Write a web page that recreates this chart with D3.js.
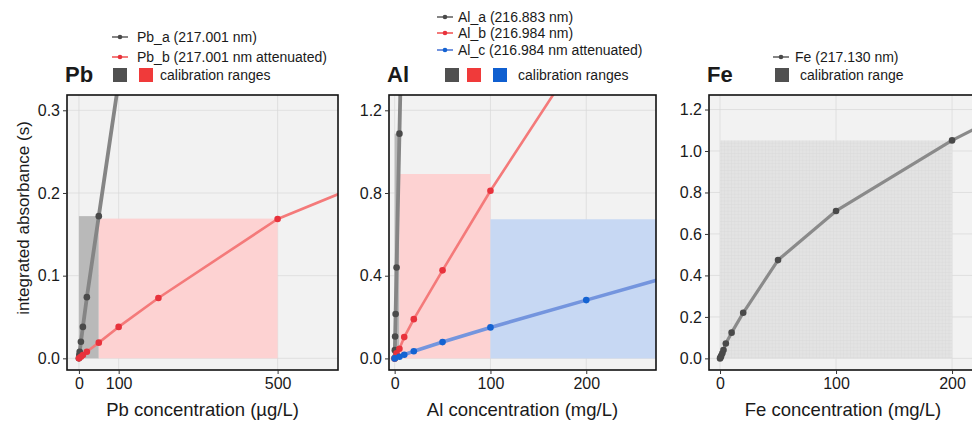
<!DOCTYPE html>
<html>
<head>
<meta charset="utf-8">
<script src="https://cdn.jsdelivr.net/npm/d3@7"></script>
<style>
  body { margin: 0; background: #fff; }
  text { font-family: Arial, "Liberation Sans", sans-serif; fill: #1a1a1a; }
</style>
</head>
<body>
<svg id="chart" width="972" height="427"></svg>
<script>
// ---- data ----
// Pb (µg/L)
const pbA_x = [0, 1, 2, 5, 10, 20, 50, 100];
const pbA_y = [0, 0.004, 0.008, 0.02, 0.038, 0.074, 0.172, 0.335];
const pbB_x = [0, 5, 10, 20, 50, 100, 200, 500, 1000];
const pbB_y = [0, 0.002, 0.004, 0.008, 0.019, 0.038, 0.073, 0.1685, 0.267];
const pbRanges = [[0, 50, 0.172], [50, 500, 0.169]];
// Al (mg/L)
const alA_x = [0, 0.2, 0.5, 1, 2, 5, 10];
const alA_y = [0, 0.04, 0.106, 0.215, 0.44, 1.087, 2.17];
const alB_x = [0, 2, 5, 10, 20, 50, 100, 200];
const alB_y = [0, 0.025, 0.047, 0.103, 0.19, 0.426, 0.811, 1.52];
const alC_x = [0, 5, 10, 20, 50, 100, 200, 500];
const alC_y = [0, 0.008, 0.018, 0.035, 0.079, 0.15, 0.282, 0.673];
const alRanges = [[0, 5, 1.087], [5, 100, 0.892], [100, 500, 0.673]];
// Fe (mg/L)
const fe_x = [0, 0.5, 1, 2, 3, 5, 10, 20, 50, 100, 200, 300];
const fe_y = [0, 0.005, 0.012, 0.025, 0.04, 0.072, 0.124, 0.22, 0.474, 0.711, 1.051, 1.335];
const feRanges = [[0, 200, 1.051]];

const zip = (xs, ys) => xs.map((x, i) => ({x: x, y: ys[i]}))

const grey = {line: "#858585", dot: "#4a4a4a", lw: 3.8, key: "#505050", rect: "#b9b9b9"}
const red = {line: "#f47a7a", dot: "#e8323c", lw: 2.6, key: "#f03a3a", rect: "#fdd2d2"}
const blue = {line: "#7495de", dot: "#1463d2", lw: 3.6, key: "#0f5fd0", rect: "#c7d8f3"}

const svg = d3.select("#chart")

// fine grid texture used on the Fe range
const defs = svg.append("defs")
const pat = defs.append("pattern").attr("id", "fegrid")
  .attr("width", 3.4).attr("height", 3.4).attr("patternUnits", "userSpaceOnUse")
pat.append("rect").attr("width", 3.4).attr("height", 3.4).attr("fill", "#e3e3e3")
pat.append("path").attr("d", "M0,0.3H3.4M0.3,0V3.4").attr("stroke", "#d8d8d8").attr("stroke-width", 0.5)

const plotTop = 95, plotBottom = 370

const panels = [
  {id: "pb", left: 67, right: 338, xDomain: [-30, 652], yDomain: [-0.0141, 0.3185],
   xTicks: [0, 100, 500], yTicks: [0, 0.1, 0.2, 0.3], title: "Pb", xlabel: "Pb concentration (µg/L)",
   ranges: pbRanges.map((r, i) => ({r: r, c: [grey, red][i]})),
   series: [{d: zip(pbA_x, pbA_y), c: grey}, {d: zip(pbB_x, pbB_y), c: red}],
   legend: {lx: 112, tx: 137, rows: [["Pb_a (217.001 nm)", grey, 37], ["Pb_b (217.001 nm attenuated)", red, 57]],
            keyY: 75, keys: [[113, grey], [139, red]], keyText: [160, "calibration ranges"]}},
  {id: "al", left: 389, right: 656, xDomain: [-5.9, 272.8], yDomain: [-0.056, 1.274],
   xTicks: [0, 100, 200], yTicks: [0, 0.4, 0.8, 1.2], title: "Al", xlabel: "Al concentration (mg/L)",
   ranges: alRanges.map((r, i) => ({r: r, c: [grey, red, blue][i]})),
   series: [{d: zip(alA_x, alA_y), c: grey}, {d: zip(alB_x, alB_y), c: red}, {d: zip(alC_x, alC_y), c: blue}],
   legend: {lx: 437, tx: 458, rows: [["Al_a (216.883 nm)", grey, 17], ["Al_b (216.984 nm)", red, 33], ["Al_c (216.984 nm attenuated)", blue, 50]],
            keyY: 75, keys: [[445, grey], [467, red], [493, blue]], keyText: [518, "calibration ranges"]}},
  {id: "fe", left: 709, right: 977, xDomain: [-9.5, 221.5], yDomain: [-0.056, 1.27],
   xTicks: [0, 100, 200], yTicks: [0, 0.2, 0.4, 0.6, 0.8, 1.0, 1.2], title: "Fe", xlabel: "Fe concentration (mg/L)",
   ranges: feRanges.map(r => ({r: r, c: {rect: "url(#fegrid)"}})),
   series: [{d: zip(fe_x, fe_y), c: {line: "#8a8a8a", dot: "#4a4a4a", lw: 3.2}}],
   legend: {lx: 773, tx: 795, rows: [["Fe (217.130 nm)", grey, 57]],
            keyY: 75, keys: [[775, grey]], keyText: [800, "calibration range"]}}
]

panels.forEach(p => {
  const x = d3.scaleLinear().domain(p.xDomain).range([p.left, p.right])
  const y = d3.scaleLinear().domain(p.yDomain).range([plotBottom, plotTop])
  const g = svg.append("g")
  const w = p.right - p.left, h = plotBottom - plotTop

  defs.append("clipPath").attr("id", "clip-" + p.id)
    .append("rect").attr("x", p.left).attr("y", plotTop).attr("width", w).attr("height", h)

  g.append("rect").attr("x", p.left).attr("y", plotTop).attr("width", w).attr("height", h)
    .attr("fill", "#f2f2f2")

  // grid
  g.append("g").selectAll("line").data(p.xTicks).join("line")
    .attr("x1", d => x(d)).attr("x2", d => x(d)).attr("y1", plotTop).attr("y2", plotBottom)
    .attr("stroke", "#d9d9d9").attr("stroke-width", 0.7)
  g.append("g").selectAll("line").data(p.yTicks).join("line")
    .attr("x1", p.left).attr("x2", p.right).attr("y1", d => y(d)).attr("y2", d => y(d))
    .attr("stroke", "#d9d9d9").attr("stroke-width", 0.7)

  const plot = g.append("g").attr("clip-path", "url(#clip-" + p.id + ")")

  // calibration ranges
  plot.selectAll("rect.range").data(p.ranges).join("rect").attr("class", "range")
    .attr("x", d => x(d.r[0])).attr("width", d => x(d.r[1]) - x(d.r[0]))
    .attr("y", d => y(d.r[2])).attr("height", d => y(0) - y(d.r[2]))
    .attr("fill", d => d.c.rect)

  const line = d3.line().x(d => x(d.x)).y(d => y(d.y))
  p.series.forEach(s => {
    plot.append("path").datum(s.d).attr("d", line)
      .attr("fill", "none").attr("stroke", s.c.line).attr("stroke-width", s.c.lw)
      .attr("stroke-linejoin", "round")
    plot.append("g").selectAll("circle").data(s.d).join("circle")
      .attr("cx", d => x(d.x)).attr("cy", d => y(d.y)).attr("r", 3.3)
      .attr("fill", s.c.dot)
  })

  g.append("rect").attr("x", p.left).attr("y", plotTop).attr("width", w).attr("height", h)
    .attr("fill", "none").attr("stroke", "#111").attr("stroke-width", 1.6)

  // axes
  const xa = g.append("g").attr("transform", `translate(0,${plotBottom})`)
    .call(d3.axisBottom(x).tickValues(p.xTicks).tickSize(4).tickPadding(4))
  const ya = g.append("g").attr("transform", `translate(${p.left},0)`)
    .call(d3.axisLeft(y).tickValues(p.yTicks).tickFormat(d3.format(".1f")).tickSize(4).tickPadding(3))
  ;[xa, ya].forEach(a => {
    a.select(".domain").remove()
    a.selectAll(".tick line").attr("stroke", "#333").attr("stroke-width", 1)
    a.selectAll(".tick text").attr("font-size", 16).attr("fill", "#222")
      .style("font-family", "Arial, 'Liberation Sans', sans-serif")
  })

  g.append("text").attr("x", (p.left + p.right) / 2).attr("y", 416)
    .attr("text-anchor", "middle").attr("font-size", 18.5).text(p.xlabel)

  // title and legend
  g.append("text").attr("x", p.left - 2).attr("y", 82).attr("font-size", 22)
    .attr("font-weight", "bold").text(p.title)
  const L = p.legend
  L.rows.forEach(r => {
    g.append("line").attr("x1", L.lx).attr("x2", L.lx + 16).attr("y1", r[2]).attr("y2", r[2])
      .attr("stroke", r[1].line).attr("stroke-width", 2)
    g.append("circle").attr("cx", L.lx + 8).attr("cy", r[2]).attr("r", 2.3).attr("fill", r[1].dot)
    g.append("text").attr("x", L.tx).attr("y", r[2] + 5).attr("font-size", 14).text(r[0])
  })
  L.keys.forEach(k => {
    g.append("rect").attr("x", k[0]).attr("y", L.keyY - 7).attr("width", 14).attr("height", 14)
      .attr("fill", k[1].key)
  })
  g.append("text").attr("x", L.keyText[0]).attr("y", L.keyY + 5).attr("font-size", 14).text(L.keyText[1])
})

svg.append("text").attr("transform", "translate(29,218) rotate(-90)")
  .attr("text-anchor", "middle").attr("font-size", 17).text("integrated absorbance (s)")
</script>
</body>
</html>
